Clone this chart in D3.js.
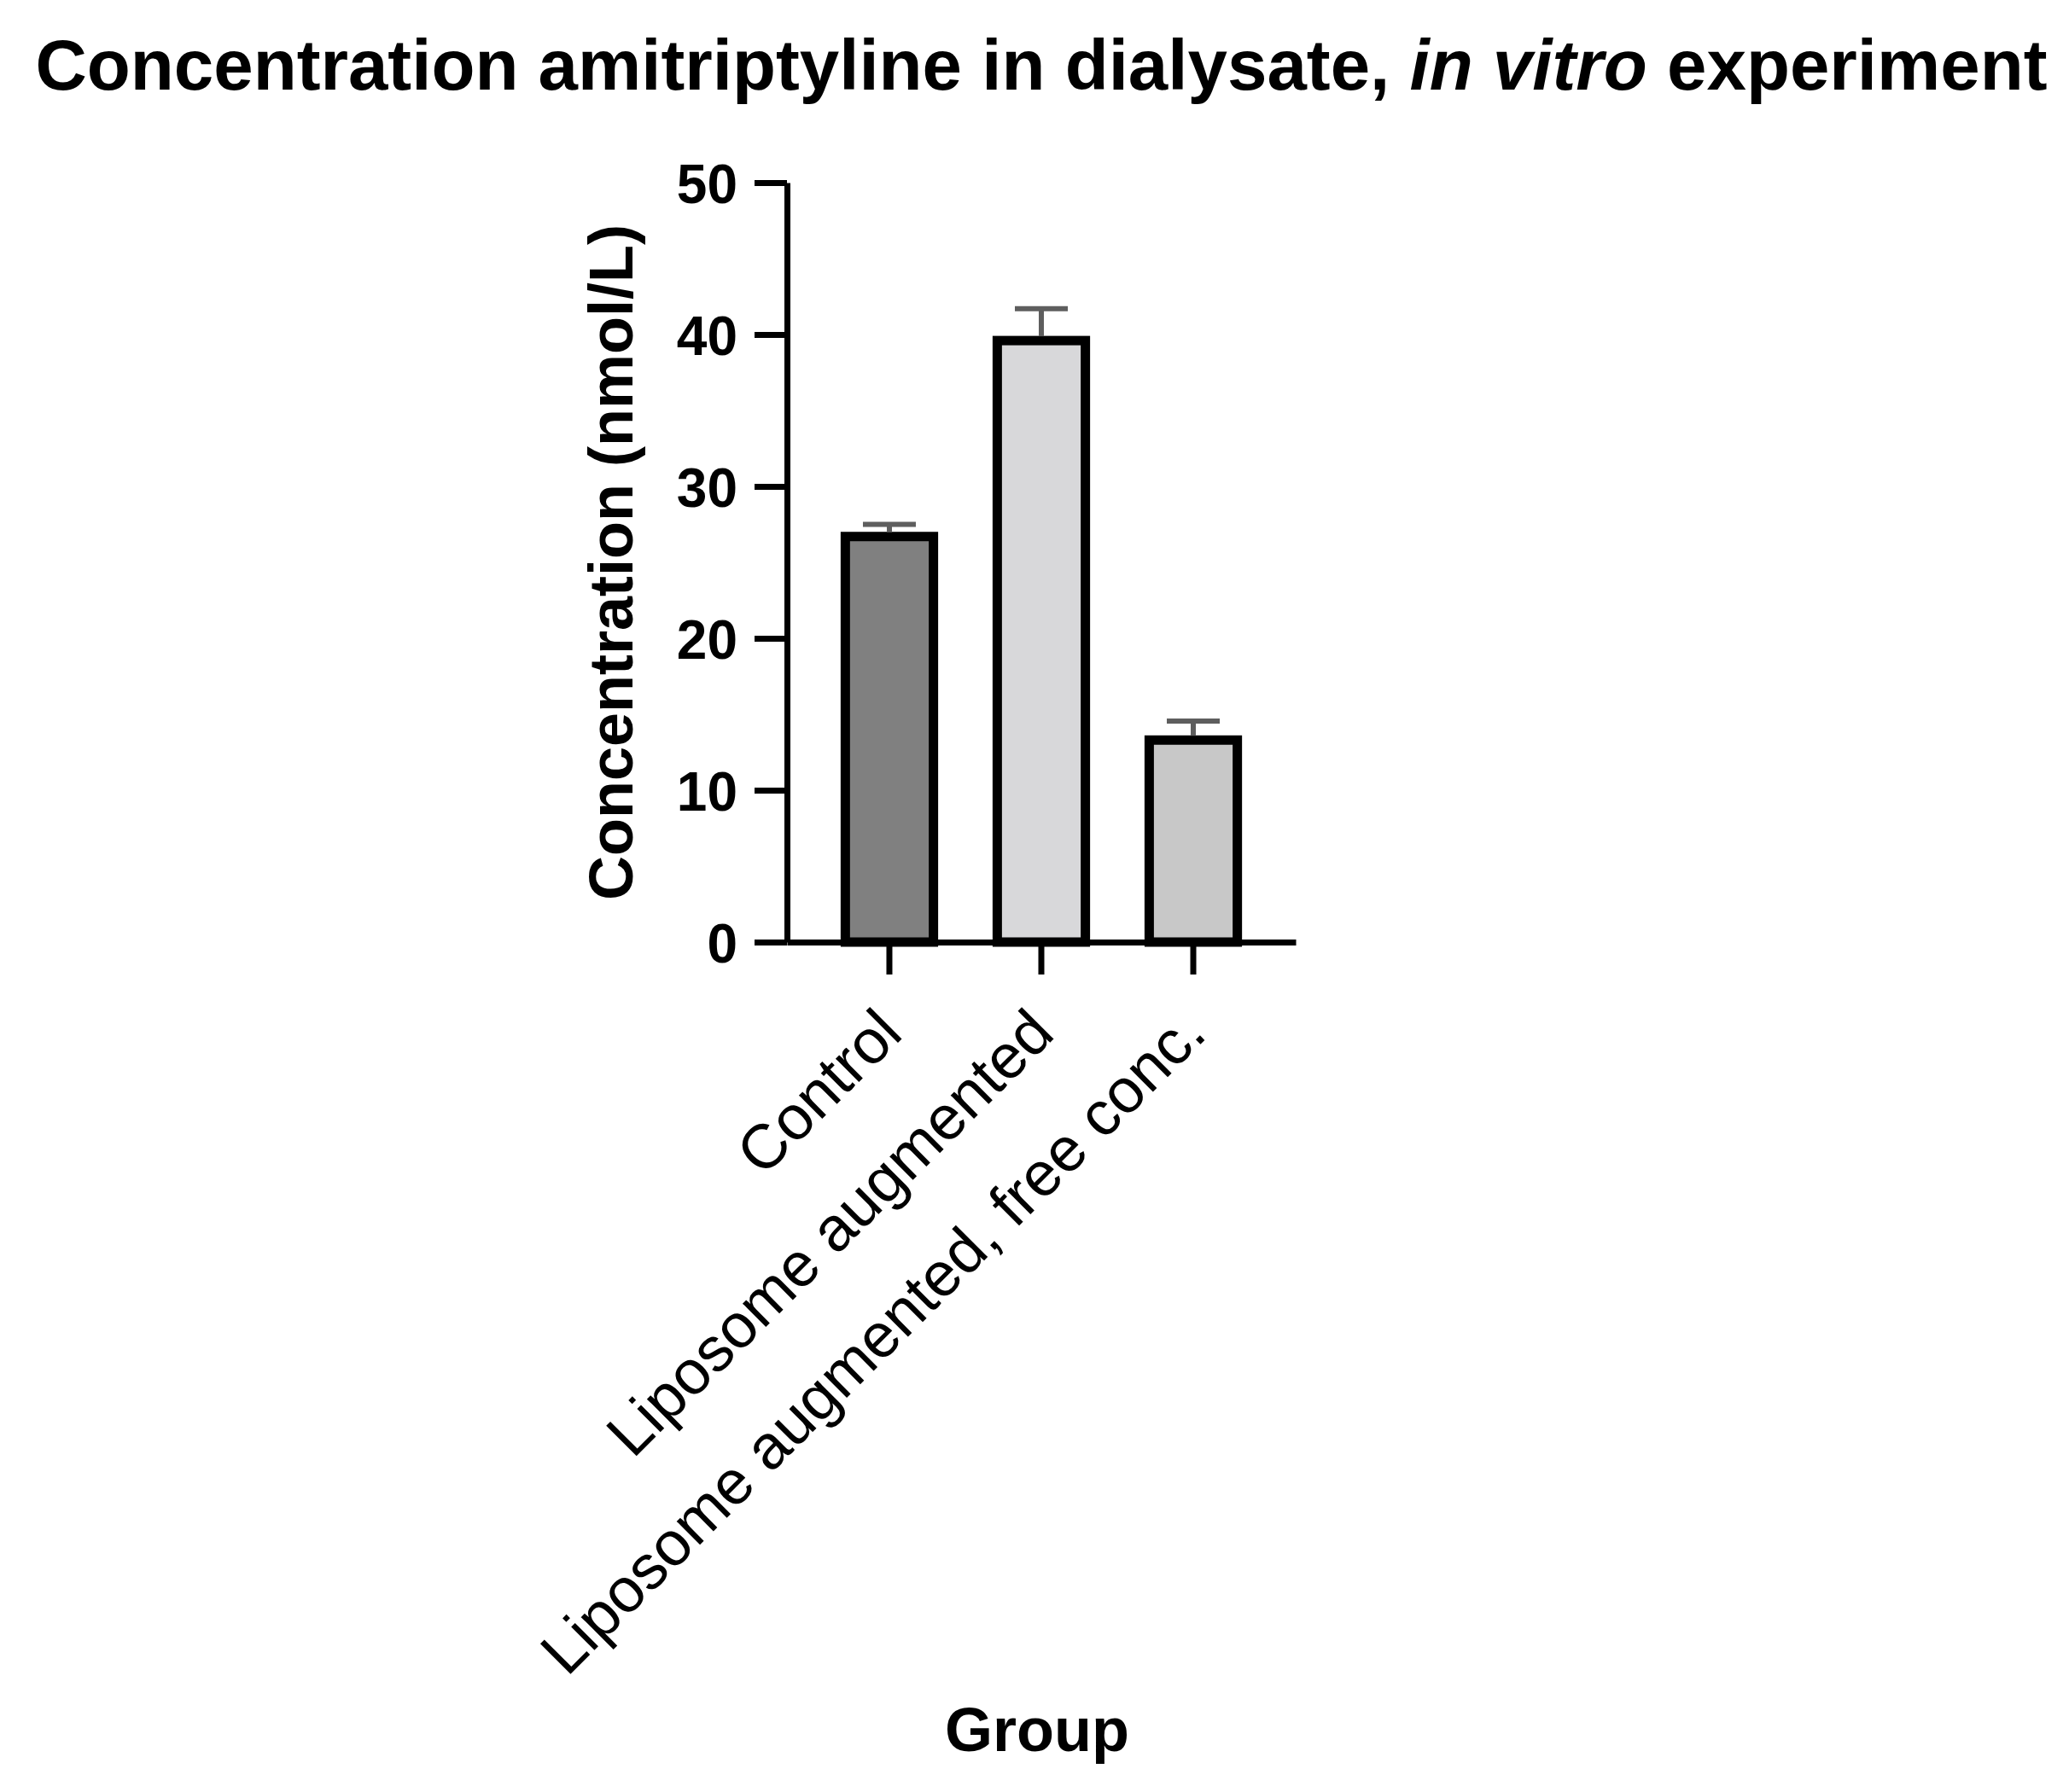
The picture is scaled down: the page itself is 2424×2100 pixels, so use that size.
<!DOCTYPE html>
<html>
<head>
<meta charset="utf-8">
<script src="https://cdn.jsdelivr.net/npm/d3@7"></script>
<style>
  body { margin: 0; background: #fff; }
  svg { display: block; font-family: "Liberation Sans", Arial, sans-serif; }
</style>
</head>
<body>
<div id="chart"></div>
<script>
const groups = ["Control", "Liposome augmented", "Liposome augmented, free conc."];
const means = [26.7, 39.6, 13.3];
const errors = [0.8, 2.1, 1.25];
const fills = ["#808080", "#d8d8da", "#c8c8c8"];
const yTicks = [0, 10, 20, 30, 40, 50];

const width = 2424;
const height = 2100;
const margin = { top: 214, right: 906, bottom: 996, left: 922 };

const svg = d3.select("#chart")
    .append("svg")
        .attr("width", width)
        .attr("height", height);

svg.append("rect")
    .attr("width", width)
    .attr("height", height)
    .attr("fill", "#fff");

const x = d3.scaleBand()
    .domain(groups)
    .range([margin.left, width - margin.right])
    .paddingInner(0.42)
    .paddingOuter(0.384);

const y = d3.scaleLinear()
    .domain([0, 50])
    .range([height - margin.bottom, margin.top]);

// bars
svg.selectAll(".bar")
    .data(groups)
    .enter()
    .append("rect")
        .attr("class", "bar")
        .attr("x", d => x(d))
        .attr("y", (d, i) => y(means[i]))
        .attr("width", x.bandwidth())
        .attr("height", (d, i) => y(0) - y(means[i]))
        .attr("fill", (d, i) => fills[i])
        .attr("stroke", "#000")
        .attr("stroke-width", 11);

// error bars (upper only)
const err = svg.selectAll(".err")
    .data(groups)
    .enter()
    .append("g")
        .attr("class", "err")
        .attr("stroke", "#5e5e5e")
        .attr("stroke-width", 6);

err.append("line")
    .attr("x1", d => x(d) + x.bandwidth() / 2)
    .attr("x2", d => x(d) + x.bandwidth() / 2)
    .attr("y1", (d, i) => y(means[i]) - 5)
    .attr("y2", (d, i) => y(means[i] + errors[i]));

err.append("line")
    .attr("x1", d => x(d) + x.bandwidth() / 2 - 31)
    .attr("x2", d => x(d) + x.bandwidth() / 2 + 31)
    .attr("y1", (d, i) => y(means[i] + errors[i]))
    .attr("y2", (d, i) => y(means[i] + errors[i]));

// y axis
const yAxis = svg.append("g")
    .attr("transform", `translate(${margin.left},0)`)
    .call(d3.axisLeft(y).tickValues(yTicks).tickSize(38).tickSizeOuter(0).tickPadding(20));

yAxis.select(".domain").attr("stroke", "#000").attr("stroke-width", 7);
yAxis.selectAll(".tick line").attr("stroke", "#000").attr("stroke-width", 7);
yAxis.selectAll(".tick text")
    .attr("fill", "#000")
    .style("font-size", "64px")
    .style("font-weight", "bold")
    .attr("dy", "0.36em");

// x axis
const xAxis = svg.append("g")
    .attr("transform", `translate(0,${y(0)})`)
    .call(d3.axisBottom(x).tickSize(38).tickSizeOuter(0).tickPadding(0));

xAxis.select(".domain").attr("stroke", "#000").attr("stroke-width", 7);
xAxis.selectAll(".tick line").attr("stroke", "#000").attr("stroke-width", 7);
xAxis.selectAll(".tick text")
    .attr("fill", "#000")
    .style("font-size", "73px")
    .style("font-weight", "normal")
    .attr("text-anchor", "end")
    .attr("y", 0)
    .attr("dy", "0.35em")
    .attr("transform", "translate(0,92) rotate(-45)");

// title
const title = svg.append("text")
    .attr("x", width / 2 + 8)
    .attr("y", 105)
    .attr("text-anchor", "middle")
    .style("font-size", "83.5px")
    .style("font-weight", "bold")
    .attr("fill", "#000");
title.append("tspan").text("Concentration amitriptyline in dialysate, ");
title.append("tspan").style("font-style", "italic").text("in vitro");
title.append("tspan").text(" experiment");

// y label
svg.append("text")
    .attr("transform", `translate(741,${(y(0) + y(50)) / 2}) rotate(-90)`)
    .attr("text-anchor", "middle")
    .style("font-size", "72px")
    .style("font-weight", "bold")
    .attr("fill", "#000")
    .text("Concentration (nmol/L)");

// x label
svg.append("text")
    .attr("x", 1215)
    .attr("y", 2052)
    .attr("text-anchor", "middle")
    .style("font-size", "72px")
    .style("font-weight", "bold")
    .attr("fill", "#000")
    .text("Group");
</script>
</body>
</html>
